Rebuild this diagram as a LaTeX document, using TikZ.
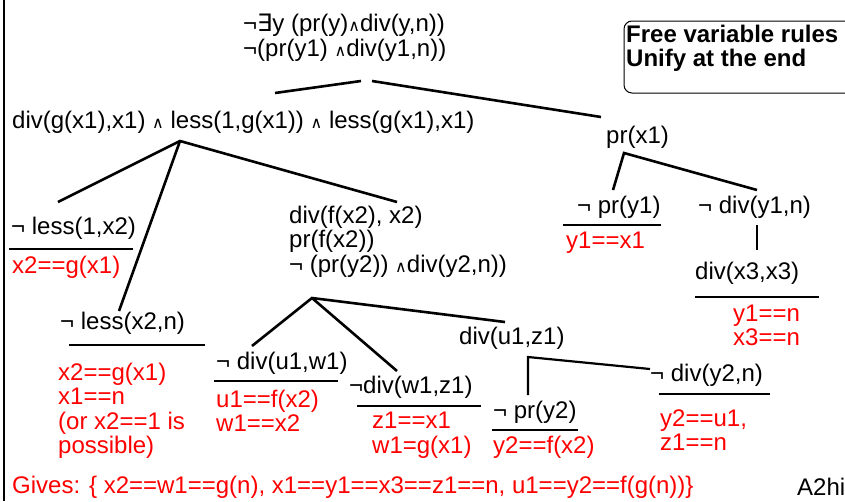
\documentclass[tikz,border=0pt]{standalone}
\usepackage{fontspec}
\setmainfont{Liberation Sans}
\newfontfamily\symfont{DejaVu Sans}
\newcommand{\andsym}{{\symfont\fontsize{16}{16}\selectfont ∧}}
\newcommand{\exsym}{{\symfont ∃}}
\tikzset{
  lbl/.style={anchor=west, inner sep=0pt, align=left},
  res/.style={lbl, text=red},
  branch/.style={line width=2.6pt},
  sequent/.style={line width=2.8pt},
}

\begin{document}
\begin{tikzpicture}[x=1pt, y=-1pt, font=\fontsize{24}{24.5}\selectfont]
    \useasboundingbox (0,0) rectangle (845,501);
    \draw[line width=1.6pt] (4,0) -- (4,501);

    % formulas
    \node[lbl] (goal) at (243,37.5) {¬\exsym y (pr(y)\andsym div(y,n))\\¬(pr(y1) \andsym div(y1,n))};
    \node[lbl] (conj) at (12,122) {div(g(x1),x1) \andsym\ less(1,g(x1)) \andsym\ less(g(x1),x1)};
    \node[lbl] (prx) at (606,137) {pr(x1)};
    \node[lbl] (lessone) at (11,228) {¬ less(1,x2)};
    \node[lbl] (lessn) at (60,323) {¬ less(x2,n)};
    \node[lbl] (divf) at (289,241.5) {div(f(x2), x2)\\pr(f(x2))\\¬ (pr(y2)) \andsym div(y2,n))};
    \node[lbl] (divuw) at (216,363) {¬ div(u1,w1)};
    \node[lbl] (divwz) at (349,387) {¬div(w1,z1)};
    \node[lbl] (divuz) at (459,338) {div(u1,z1)};
    \node[lbl] (pry2) at (493,412) {¬ pr(y2)};
    \node[lbl] (divyn2) at (650,375) {¬ div(y2,n)};
    \node[lbl] (pry1) at (577,207) {¬ pr(y1)};
    \node[lbl] (divyn1) at (698,207) {¬ div(y1,n)};
    \node[lbl] (divxx) at (695,273) {div(x3,x3)};

    % unifiers
    \node[res] (uniA) at (12,267) {x2==g(x1)};
    \node[res] (uniB) at (58,411) {x2==g(x1)\\x1==n\\(or x2==1 is\\possible)};
    \node[res] (uniC) at (216,411) {u1==f(x2)\\w1==x2};
    \node[res] (uniD) at (372,435) {z1==x1\\w1=g(x1)};
    \node[res] (uniE) at (493,447) {y2==f(x2)};
    \node[res] (uniF) at (660,430) {y2==u1,\\z1==n};
    \node[res] (uniG) at (566,243) {y1==x1};
    \node[res] (uniH) at (733,325.5) {y1==n\\x3==n};
    \node[res] (gives) at (12,487) {Gives: \{ x2==w1==g(n), x1==y1==x3==z1==n, u1==y2==f(g(n))\}};
    \node[lbl] (tag) at (797,487) {A2hi};

    \node[lbl, font=\fontsize{24}{24}\selectfont\bfseries] (note) at (626,48) {Free variable rules\\Unify at the end};
    \draw[line width=1pt, rounded corners=8pt] (624,21) rectangle (870,93);

    % branch points
    \coordinate (goalL) at (361,81);
    \coordinate (goalR) at (372,81);
    \coordinate (conjT) at (275,93);
    \coordinate (prxT) at (601,117);
    \coordinate (conjB) at (180,141);
    \coordinate (lessoneT) at (58,202);
    \coordinate (lessnT) at (119,311);
    \coordinate (divfT) at (397,202);
    \coordinate (prxB) at (624,153);
    \coordinate (pry1T) at (613,190);
    \coordinate (divyn1T) at (757,190);
    \coordinate (divyn1B) at (757,225);
    \coordinate (divxxT) at (757,250);
    \coordinate (divfB) at (312,298);
    \coordinate (divuwT) at (252,346);
    \coordinate (divwzT) at (397,371);
    \coordinate (divuzT) at (505,322);
    \coordinate (divuzB) at (528,357);
    \coordinate (pry2T) at (528,395);
    \coordinate (divyn2T) at (650,369);

    \draw[branch] (conjT) -- (goalL);
    \draw[branch] (goalR) -- (prxT);
    \draw[branch] (lessoneT) -- (conjB) -- (divfT);
    \draw[branch] (conjB) -- (lessnT);
    \draw[branch] (pry1T) -- (prxB) -- (divyn1T);
    \draw[line width=1.8pt] (divyn1B) -- (divxxT);
    \draw[branch] (divuwT) -- (divfB) -- (divuzT);
    \draw[branch] (divfB) -- (divwzT);
    \draw[line width=2.2pt] (pry2T) -- (divuzB) -- (divyn2T);

    % sequent rules
    \draw[sequent] (9,249) -- (133,249);
    \draw[sequent] (69,345) -- (205,345);
    \draw[sequent] (214,381) -- (338,381);
    \draw[sequent] (357,406) -- (481,406);
    \draw[sequent] (492,430) -- (578,430);
    \draw[sequent] (659,394) -- (770,394);
    \draw[sequent] (563,225) -- (661,225);
    \draw[sequent] (695,297) -- (819,297);
\end{tikzpicture}
\end{document}
